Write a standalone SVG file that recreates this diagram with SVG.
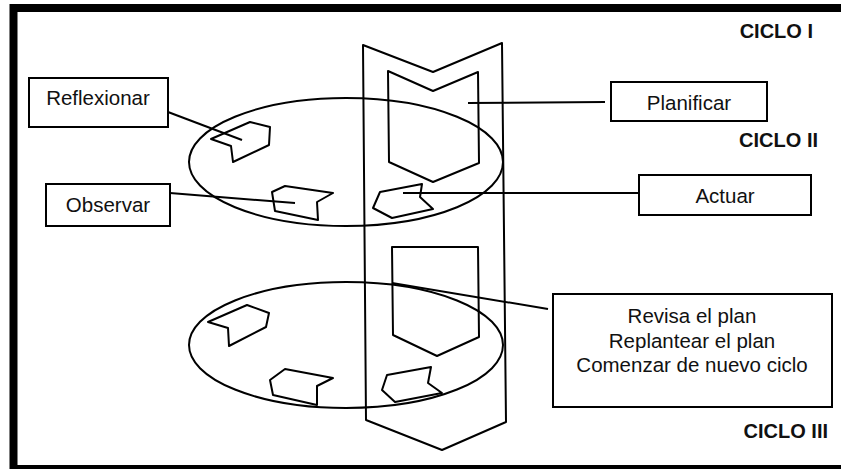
<svg xmlns="http://www.w3.org/2000/svg" width="841" height="469" viewBox="0 0 841 469">
<style>
.ln{fill:none;stroke:#000;stroke-width:2;stroke-linejoin:round}
.box{fill:#fff;stroke:#000;stroke-width:2}
.t{font-family:"Liberation Sans",Arial,sans-serif;font-size:20.5px;fill:#111;text-anchor:middle}
.c{font-family:"Liberation Sans",Arial,sans-serif;font-size:20px;font-weight:bold;fill:#111;text-anchor:end}
</style>
<rect x="0" y="0" width="841" height="469" fill="#fff"/>
<rect x="13.5" y="8" width="840" height="461" fill="none" stroke="#000" stroke-width="8"/>
<g id="banner">
<path class="ln" d="M363,45 L433,72 L502,43 L506,422 L442,450 L366,420 Z"/>
<path class="ln" d="M388,71 L433,91 L478,72 L479,163 L433,182 L389,162 Z"/>
<path class="ln" d="M392,247 L478,247 L479,337 L437,356 L393,335 Z"/>
</g>
<g id="ciclo2">
<ellipse class="ln" cx="346" cy="162" rx="157" ry="64"/>
<path class="ln" d="M211,139 L250,122 L270,127 L269,145 L233,162 L231,146 Z"/>
<path class="ln" d="M285,186 L333,193 L317,202 L318,220 L275,211 L272,192 Z"/>
<path class="ln" d="M380,192 L422,184 L420,197 L433,209 L392,218 L373,208 Z"/>
</g>
<g id="ciclo3">
<ellipse class="ln" cx="346" cy="345" rx="157" ry="63"/>
<path class="ln" d="M208,322 L247,305 L269,313 L266,327 L229,346 L228,328 Z"/>
<path class="ln" d="M285,369 L333,378 L317,386 L317,405 L273,395 L270,380 Z"/>
<path class="ln" d="M387,375 L431,367 L428,383 L442,393 L395,402 L382,390 Z"/>
</g>
<g id="connectors">
<line class="ln" x1="168" y1="112" x2="242" y2="140"/>
<line class="ln" x1="170" y1="193" x2="295" y2="203"/>
<line class="ln" x1="605" y1="102" x2="468" y2="103"/>
<line class="ln" x1="638" y1="193" x2="403" y2="193"/>
<line class="ln" x1="548" y1="309" x2="392" y2="283"/>
</g>
<g id="reflexionar">
<rect class="box" x="29" y="78" width="139" height="49"/>
<text class="t" x="98" y="105">Reflexionar</text>
</g>
<g id="observar">
<rect class="box" x="46" y="184" width="124" height="42"/>
<text class="t" x="108" y="212">Observar</text>
</g>
<g id="planificar">
<rect class="box" x="611" y="82" width="156" height="39"/>
<text class="t" x="689" y="110">Planificar</text>
</g>
<g id="actuar">
<rect class="box" x="639" y="175" width="172" height="40"/>
<text class="t" x="725" y="203">Actuar</text>
</g>
<g id="revisa">
<rect class="box" x="553" y="294" width="279" height="113"/>
<text class="t" x="692" y="323">Revisa el plan</text>
<text class="t" x="692" y="348">Replantear el plan</text>
<text class="t" x="692" y="372">Comenzar de nuevo ciclo</text>
</g>
<g id="labels">
<text class="c" x="813" y="38">CICLO I</text>
<text class="c" x="818" y="147">CICLO II</text>
<text class="c" x="828" y="438">CICLO III</text>
</g>
</svg>
